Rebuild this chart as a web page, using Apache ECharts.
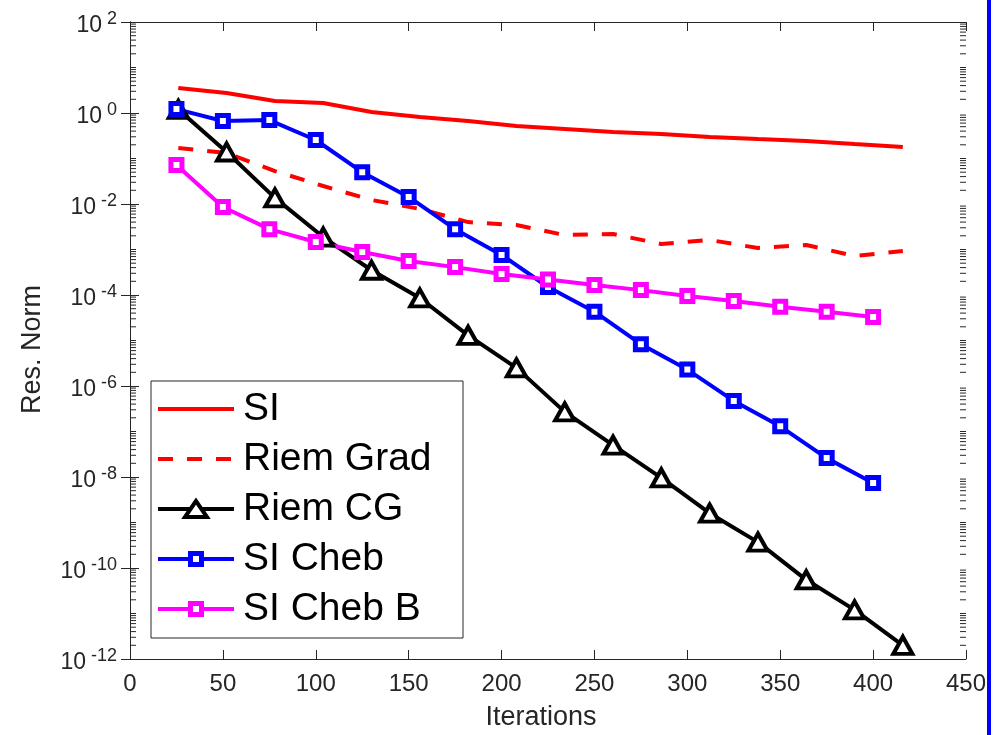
<!DOCTYPE html>
<html><head><meta charset="utf-8">
<script src="https://cdn.jsdelivr.net/npm/echarts@6/dist/echarts.min.js"></script>
<style>html,body{margin:0;padding:0;background:#fff}#c{width:1005px;height:735px}</style>
</head><body><div id="c"></div>
<script>
// ---- data ----
const xRiem = [26,52,78,104,130,156,182,208,234,260,286,312,338,364,390,416];
const xCheb = [25,50,75,100,125,150,175,200,225,250,275,300,325,350,375,400];
const siValues = [3.54,2.75,1.84,1.66,1.05,0.82,0.67,0.52,0.445,0.38,0.345,0.297,0.268,0.243,0.208,0.179];
const riemGradValues = [0.170,0.132,0.053,0.0249,0.01225,7.8e-3,4.0e-3,3.45e-3,2.08e-3,2.19e-3,1.32e-3,1.62e-3,1.08e-3,1.26e-3,7.2e-4,9.3e-4];
const riemCgValues = [1.2,0.139,0.0136,1.88e-3,3.5e-4,8.6e-5,1.3e-5,2.5e-6,2.7e-7,5e-8,9.6e-9,1.6e-9,3.7e-10,5.5e-11,1.2e-11,2.0e-12];
const siChebValues = [1.22,0.667,0.70,0.255,0.050,0.0143,2.8e-3,7.6e-4,1.5e-4,4.3e-5,8.3e-6,2.3e-6,4.7e-7,1.3e-7,2.6e-8,7.4e-9];
const siChebBValues = [0.072,8.6e-3,2.8e-3,1.46e-3,8.8e-4,5.6e-4,4.1e-4,2.9e-4,2.2e-4,1.65e-4,1.28e-4,9.5e-5,7.4e-5,5.5e-5,4.3e-5,3.3e-5];
const seriesNames = ['SI','Riem Grad','Riem CG','SI Cheb','SI Cheb B'];
const yTickExponents = [-12,-10,-8,-6,-4,-2,0,2];
const xMin = 0, xMax = 450, xInterval = 50;
const yMin = 1e-12, yMax = 1e2;

// ---- build ----
const FONT = '"Liberation Sans", Arial, Helvetica, sans-serif';
const AX = '#262626';
const zip = (xs, ys) => xs.map((x, i) => [x, ys[i]]);
const expOf = v => Math.round(Math.log10(v));
const yTickValues = yTickExponents.map(e => Math.pow(10, e));

const minorTicks = [];
for (let e = -12; e < 2; e++) {
  if (e % 2 !== 0) minorTicks.push(Math.pow(10, e));
  for (let k = 2; k <= 9; k++) minorTicks.push(k * Math.pow(10, e));
}

const chart = echarts.init(document.getElementById('c'), null, {renderer: 'canvas'});

const yLabel = {
  show: true, customValues: yTickValues, hideOverlap: false,
  fontFamily: FONT, color: AX, margin: 13,
  formatter: v => '{b|10}{s|' + expOf(v) + '}',
  rich: {
    b: {fontSize: 23, lineHeight: 23, padding: [7, 0, 0, 0], color: AX, fontFamily: FONT},
    s: {fontSize: 18, lineHeight: 18, verticalAlign: 'top', padding: [0, 0, 0, 5], color: AX, fontFamily: FONT}
  }
};
const yTick = {show: true, inside: true, length: 9, customValues: yTickValues, lineStyle: {color: AX}};

const sq = (color) => ({
  symbol: 'rect', symbolSize: 11, showSymbol: true,
  itemStyle: {color: '#fff', borderColor: color, borderWidth: 5},
  lineStyle: {color: color, width: 4}
});

const option = {
  animation: false,
  grid: {left: 130, right: 39, top: 22, bottom: 76, containLabel: false, outerBoundsMode: 'none'},
  xAxis: [{
    type: 'value', min: xMin, max: xMax, interval: xInterval, position: 'bottom',
    name: 'Iterations', nameLocation: 'middle', nameGap: 45,
    nameTextStyle: {fontFamily: FONT, fontSize: 27, color: AX, padding: [0, 14, 0, 0]},
    axisLine: {show: true, lineStyle: {color: AX, width: 1}},
    axisTick: {show: true, inside: true, length: 9, lineStyle: {color: AX}},
    axisLabel: {fontFamily: FONT, fontSize: 24, color: AX, margin: 13},
    splitLine: {show: false}
  }, {
    type: 'value', min: xMin, max: xMax, interval: xInterval, position: 'top',
    axisLine: {show: true, lineStyle: {color: AX, width: 1}},
    axisTick: {show: true, inside: true, length: 9, lineStyle: {color: AX}},
    axisLabel: {show: false}, splitLine: {show: false}
  }],
  yAxis: [{
    type: 'log', logBase: 10, min: yMin, max: yMax, position: 'left',
    name: 'Res. Norm', nameLocation: 'middle', nameGap: 84,
    nameTextStyle: {fontFamily: FONT, fontSize: 27, color: AX, padding: [0, 18, 0, 0]},
    axisLine: {show: true, lineStyle: {color: AX, width: 1}},
    axisTick: yTick,
    axisLabel: yLabel,
    splitLine: {show: false}, minorTick: {show: false}
  }, {
    type: 'log', logBase: 10, min: yMin, max: yMax, position: 'right',
    axisLine: {show: true, lineStyle: {color: AX, width: 1}},
    axisTick: yTick,
    axisLabel: {show: false}, splitLine: {show: false}
  }],
  series: [
    {
      type: 'custom', name: 'yMinorTicks', silent: true, clip: false, z: 1,
      data: minorTicks.map(v => [xMin, v]),
      renderItem: (params, api) => {
        const v = api.value(1);
        const p0 = api.coord([xMin, v]);
        const p1 = api.coord([xMax, v]);
        return {type: 'group', children: [
          {type: 'line', shape: {x1: p0[0], y1: p0[1], x2: p0[0] + 6, y2: p0[1]}, style: {stroke: AX, lineWidth: 1}},
          {type: 'line', shape: {x1: p1[0] - 6, y1: p1[1], x2: p1[0], y2: p1[1]}, style: {stroke: AX, lineWidth: 1}}
        ]};
      }
    },
    {name: seriesNames[0], type: 'line', data: zip(xRiem, siValues), showSymbol: false, symbol: 'none',
     lineStyle: {color: '#ff0000', width: 4}, itemStyle: {color: '#ff0000'}, z: 2},
    {name: seriesNames[1], type: 'line', data: zip(xRiem, riemGradValues), showSymbol: false, symbol: 'none',
     lineStyle: {color: '#ff0000', width: 4, type: [15, 14]}, itemStyle: {color: '#ff0000'}, z: 2},
    {name: seriesNames[2], type: 'line', data: zip(xRiem, riemCgValues), showSymbol: true,
     symbol: 'triangle', symbolSize: [19, 17],
     itemStyle: {color: '#fff', borderColor: '#000', borderWidth: 4},
     lineStyle: {color: '#000', width: 4}, z: 2},
    Object.assign({name: seriesNames[3], type: 'line', data: zip(xCheb, siChebValues), z: 2}, sq('#0000ff')),
    Object.assign({name: seriesNames[4], type: 'line', data: zip(xCheb, siChebBValues), z: 2}, sq('#ff00ff'))
  ],
  graphic: (function () {
    const els = [];
    const lx = 151, ly = 381, lw = 312, lh = 257;
    els.push({type: 'rect', z: 100, shape: {x: lx, y: ly, width: lw, height: lh},
      style: {fill: '#fff', stroke: AX, lineWidth: 1}});
    const colors = ['#ff0000', '#ff0000', '#000000', '#0000ff', '#ff00ff'];
    seriesNames.forEach((nm, i) => {
      const cy = 409 + 50 * i;
      els.push({type: 'line', z: 101, shape: {x1: 158, y1: cy, x2: 234, y2: cy},
        style: {stroke: colors[i], lineWidth: 4, lineDash: i === 1 ? [15, 14] : null}});
      if (i === 2) {
        els.push({type: 'polygon', z: 102, shape: {points: [[196, cy - 8], [185, cy + 8], [207, cy + 8]]},
          style: {fill: '#fff', stroke: '#000', lineWidth: 4, lineJoin: 'miter'}});
      } else if (i >= 3) {
        els.push({type: 'rect', z: 102, shape: {x: 196 - 5.5, y: cy - 5.5, width: 11, height: 11},
          style: {fill: '#fff', stroke: colors[i], lineWidth: 5}});
      }
      els.push({type: 'text', z: 102, x: 243, y: cy,
        style: {text: nm, fill: '#000', font: '39px ' + FONT, verticalAlign: 'middle'}});
    });
    els.push({type: 'rect', z: 100, shape: {x: 987, y: 0, width: 4, height: 735}, style: {fill: '#0000ff'}});
    return els;
  })()
};
chart.setOption(option);
</script>
</body></html>
